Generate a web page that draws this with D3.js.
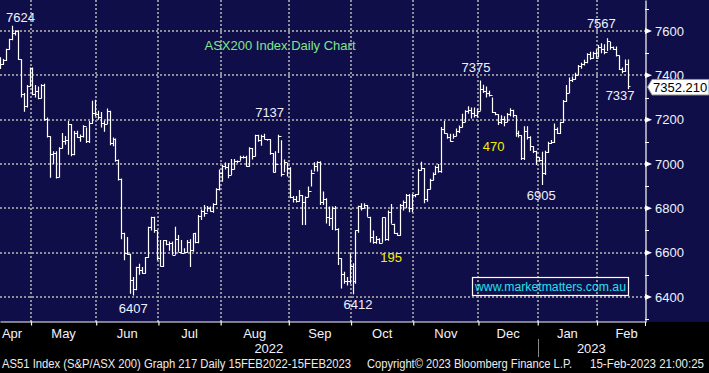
<!DOCTYPE html>
<html>
<head>
<meta charset="utf-8">
<script src="https://cdn.jsdelivr.net/npm/d3@7"></script>
<style>
  html, body { margin: 0; padding: 0; background: #000; }
  svg { display: block; }
  text { font-family: "Liberation Sans", Arial, sans-serif; }
</style>
</head>
<body>
<div id="chart"></div>
<script>
// daily bars, 12 Apr 2022 .. 15 Feb 2023
const highs = [
  7482, 7474, 7520, 7565, 7624, 7603, 7603, 7473, 7320, 7356, 7435, 7435, 7356, 7350, 7360, 7362, 7210, 7125, 7058, 7058,
  7075, 7140, 7126, 7194, 7180, 7149, 7150, 7133, 7175, 7165, 7194, 7285, 7290, 7240, 7235, 7195, 7250, 7240, 7120, 7115,
  7020, 6935, 6690, 6670, 6595, 6490, 6536, 6550, 6535, 6580, 6717, 6762, 6762, 6700, 6657, 6657, 6657, 6650, 6650, 6717,
  6680, 6657, 6620, 6657, 6660, 6687, 6690, 6770, 6795, 6815, 6810, 6808, 6823, 6890, 6975, 6997, 7007, 7005, 7022, 7022,
  7016, 7037, 7037, 7037, 7076, 7072, 7132, 7132, 7132, 7137, 7113, 7113, 7050, 7057, 7132, 7107, 7020, 7005, 6985, 6856,
  6856, 6883, 6860, 6853, 6898, 6974, 7008, 7012, 7012, 6876, 6845, 6808, 6808, 6810, 6710, 6575, 6514, 6490, 6596, 6552,
  6700, 6812, 6823, 6823, 6815, 6762, 6700, 6675, 6665, 6759, 6759, 6790, 6820, 6730, 6690, 6820, 6835, 6865, 6865, 6865,
  6865, 6978, 7010, 6982, 6887, 6933, 6962, 6992, 7000, 7167, 7194, 7137, 7137, 7137, 7160, 7174, 7227, 7242, 7260, 7255,
  7255, 7250, 7377, 7358, 7350, 7330, 7300, 7235, 7225, 7220, 7215, 7230, 7252, 7245, 7220, 7150, 7130, 7170, 7170, 7125,
  7080, 7060, 7030, 7055, 7060, 7100, 7108, 7183, 7165, 7191, 7289, 7356, 7390, 7395, 7412, 7447, 7457, 7470, 7500, 7507,
  7507, 7517, 7537, 7545, 7540, 7567, 7550, 7530, 7530, 7490, 7435, 7472, 7472
];
const lows = [
  7429, 7447, 7465, 7515, 7558, 7580, 7470, 7300, 7236, 7255, 7350, 7310, 7300, 7292, 7295, 7195, 7120, 6938, 7000, 6935,
  6940, 7070, 7087, 7042, 7035, 7040, 7118, 7100, 7120, 7095, 7095, 7180, 7215, 7200, 7165, 7145, 7180, 7085, 7080, 7010,
  6925, 6660, 6566, 6590, 6415, 6407, 6430, 6500, 6505, 6505, 6577, 6700, 6690, 6566, 6537, 6535, 6633, 6608, 6590, 6590,
  6604, 6600, 6600, 6600, 6535, 6604, 6642, 6642, 6747, 6762, 6785, 6785, 6780, 6815, 6880, 6920, 6975, 6936, 6950, 6975,
  7005, 7015, 7025, 6988, 6988, 7020, 7034, 7100, 7082, 7110, 7105, 7042, 6962, 6962, 7050, 6943, 6963, 6943, 6845, 6826,
  6826, 6830, 6725, 6725, 6850, 6898, 6966, 6966, 6815, 6815, 6732, 6720, 6702, 6700, 6544, 6438, 6460, 6452, 6460, 6412,
  6460, 6690, 6790, 6800, 6762, 6646, 6640, 6640, 6640, 6645, 6654, 6654, 6730, 6684, 6676, 6676, 6790, 6800, 6782, 6782,
  6850, 6860, 6970, 6823, 6830, 6885, 6925, 6950, 6960, 6960, 7137, 7114, 7100, 7114, 7125, 7140, 7165, 7190, 7227, 7205,
  7210, 7210, 7240, 7320, 7300, 7305, 7230, 7220, 7176, 7180, 7170, 7190, 7215, 7210, 7123, 7120, 7018, 7018, 7110, 7060,
  7050, 6995, 7010, 6905, 6950, 7050, 7090, 7095, 7135, 7135, 7185, 7280, 7320, 7370, 7380, 7400, 7430, 7445, 7455, 7470,
  7475, 7475, 7480, 7500, 7495, 7510, 7515, 7515, 7485, 7424, 7410, 7415, 7337
];
const closes = [
  7452, 7470, 7518, 7562, 7590, 7600, 7473, 7315, 7262, 7353, 7432, 7315, 7330, 7300, 7355, 7205, 7125, 7045, 7050, 6942,
  7070, 7105, 7110, 7180, 7045, 7140, 7120, 7128, 7170, 7105, 7185, 7230, 7225, 7210, 7185, 7180, 7240, 7095, 7115, 7020,
  6932, 6687, 6600, 6595, 6475, 6435, 6535, 6520, 6510, 6580, 6715, 6760, 6700, 6575, 6540, 6655, 6640, 6645, 6590, 6660,
  6605, 6600, 6605, 6650, 6610, 6690, 6650, 6765, 6790, 6780, 6800, 6790, 6820, 6885, 6960, 6990, 6985, 6950, 6977, 7015,
  7015, 7032, 7030, 6990, 7070, 7035, 7130, 7110, 7125, 7112, 7112, 7050, 6965, 7000, 7125, 6955, 7010, 6980, 6850, 6840,
  6835, 6860, 6830, 6850, 6880, 6960, 6990, 7008, 6830, 6840, 6760, 6755, 6800, 6705, 6575, 6505, 6470, 6470, 6540, 6470,
  6700, 6812, 6800, 6815, 6762, 6669, 6650, 6660, 6645, 6759, 6660, 6785, 6730, 6690, 6680, 6815, 6830, 6860, 6800, 6860,
  6865, 6975, 6980, 6840, 6885, 6930, 6955, 6985, 6970, 7160, 7140, 7120, 7105, 7125, 7150, 7165, 7190, 7240, 7245, 7230,
  7220, 7240, 7340, 7330, 7320, 7310, 7235, 7225, 7190, 7205, 7190, 7225, 7245, 7220, 7140, 7130, 7025, 7150, 7120, 7080,
  7060, 7030, 7020, 6960, 7055, 7095, 7100, 7160, 7140, 7190, 7285, 7320, 7380, 7385, 7400, 7440, 7450, 7460, 7495, 7480,
  7500, 7480, 7530, 7520, 7505, 7555, 7530, 7520, 7490, 7430, 7420, 7450, 7352
];

// month names and the bar index where each month starts
const monthLabels = ["Apr", "May", "Jun", "Jul", "Aug", "Sep", "Oct", "Nov", "Dec", "Jan", "Feb"];
const monthStarts = [-7, 11, 33, 54, 75, 98, 119, 140, 162, 182, 202, 222];
const yearLabels = ["2022", "2023"];
const yearStarts = [-70, 182];

const majorTicks = [6400, 6600, 6800, 7000, 7200, 7400, 7600];
const minorTicks = [6300, 6500, 6700, 6900, 7100, 7300, 7500, 7700];

// price call-outs
const peakText = ["7624", "7137", "7375", "7567", "6407", "6412", "6905", "7337"];
const peakIdx = [4, 89, 162, 205, 45, 119, 183, 212];
const peakVal = [7624, 7137, 7377, 7567, 6407, 6412, 6905, 7337];
const rangeText = ["470", "195"];
const rangeIdx = [166.6, 132];
const rangeVal = [7079, 6580];

const lastPrice = "7352.210";
const lastValue = 7352.21;

const footer = [
  "AS51 Index (S&P/ASX 200) Graph 217  Daily 15FEB2022-15FEB2023",
  "Copyright\u00A9 2023 Bloomberg Finance L.P.",
  "15-Feb-2023 21:00:25"
];

const W = 709, H = 373;
const plotR = 645, plotB = 322;

const svg = d3.select("#chart").append("svg")
  .attr("width", W)
  .attr("height", H);

svg.append("rect").attr("width", W).attr("height", H).attr("fill", "#000");
svg.append("rect").attr("width", W).attr("height", plotB).attr("fill", "#100e48");

const x = d3.scaleLinear().domain([0.034, 217.7]).range([0, plotR]);
const y = d3.scaleLinear().domain([6287, 7740]).range([plotB, 0]);

const px = (v) => Math.round(v) + 0.5;

// grid
const grid = svg.append("g")
  .attr("stroke", "#8e8e98")
  .attr("stroke-width", 2)
  .attr("stroke-dasharray", "2,2");

grid.selectAll("line.h")
  .data(majorTicks)
  .enter()
  .append("line")
  .attr("x1", 0).attr("x2", plotR)
  .attr("y1", (d) => Math.round(y(d)))
  .attr("y2", (d) => Math.round(y(d)));

const bounds = monthStarts.slice(1, -1);
grid.selectAll("line.v")
  .data(bounds)
  .enter()
  .append("line")
  .attr("x1", (d) => Math.round(x(d - 0.5)))
  .attr("x2", (d) => Math.round(x(d - 0.5)))
  .attr("y1", 0).attr("y2", plotB);

// bars
const bars = svg.append("g");
bars.selectAll("path")
  .data(closes)
  .enter()
  .append("path")
  .attr("fill", "none")
  .attr("stroke", "#fff")
  .attr("stroke-width", 1.2)
  .attr("d", (c, i) => {
    const xi = px(x(i));
    const xn = i < closes.length - 1 ? px(x(i + 1)) : xi + 2;
    return `M${xi},${y(highs[i])}V${y(lows[i])}M${xi},${px(y(c))}H${xn}`;
  });

// x axis
const xAxis = d3.axisBottom(x)
  .tickValues(bounds.map((d) => d - 0.5))
  .tickFormat("")
  .tickSize(4)
  .tickSizeOuter(0);

const gx = svg.append("g")
  .attr("transform", `translate(0, ${plotB - 0.5})`)
  .call(xAxis);
gx.selectAll("path, line").attr("stroke", "#f4f4ff").attr("stroke-width", 1.2);

const mid = (a, b) => (x(a - 0.5) + x(b - 0.5)) / 2;
svg.append("g").selectAll("text")
  .data(monthLabels)
  .enter()
  .append("text")
  .attr("x", (d, i) => Math.max(mid(monthStarts[i], monthStarts[i + 1]), 12))
  .attr("y", 338)
  .attr("text-anchor", "middle")
  .attr("fill", "#f2f2ff")
  .attr("font-size", 13)
  .text((d) => d);

// years
const yearX = (i) => {
  const a = Math.max(0, x(yearStarts[i] - 0.5));
  const b = i < yearStarts.length - 1 ? x(yearStarts[i + 1] - 0.5) : plotR;
  return (a + b) / 2;
};
svg.append("g").selectAll("text")
  .data(yearLabels)
  .enter()
  .append("text")
  .attr("x", (d, i) => yearX(i))
  .attr("y", 353)
  .attr("text-anchor", "middle")
  .attr("fill", "#f2f2ff")
  .attr("font-size", 13)
  .text((d) => d);

svg.append("line")
  .attr("x1", px(x(yearStarts[1] - 0.5))).attr("x2", px(x(yearStarts[1] - 0.5)))
  .attr("y1", 339).attr("y2", 357)
  .attr("stroke", "#8a8a8a");

// y axis on the right
const yAxis = d3.axisRight(y)
  .tickValues(majorTicks)
  .tickFormat("")
  .tickSize(0)
  .tickSizeOuter(0);

const gy = svg.append("g")
  .attr("transform", `translate(${plotR + 0.5}, 0)`)
  .call(yAxis);
gy.select(".domain").attr("stroke", "#fff").attr("stroke-width", 1.2);

svg.append("line")
  .attr("x1", plotR + 0.5).attr("x2", plotR + 0.5)
  .attr("y1", plotB).attr("y2", plotB + 4)
  .attr("stroke", "#fff");

svg.append("g").selectAll("line")
  .data(minorTicks)
  .enter()
  .append("line")
  .attr("x1", plotR).attr("x2", plotR + 4)
  .attr("y1", (d) => px(y(d)))
  .attr("y2", (d) => px(y(d)))
  .attr("stroke", "#fff");

svg.append("g").selectAll("path")
  .data(majorTicks)
  .enter()
  .append("path")
  .attr("fill", "#fff")
  .attr("d", (d) => {
    const t = y(d);
    return `M${plotR},${t - 3}L${plotR + 7},${t}L${plotR},${t + 3}Z`;
  });

svg.append("g").selectAll("text")
  .data(majorTicks)
  .enter()
  .append("text")
  .attr("x", 655)
  .attr("y", (d) => y(d))
  .attr("dy", "0.36em")
  .attr("fill", "#eef2ff")
  .attr("font-size", 13)
  .text((d) => d);

// last price tag (covers the lower half of the 7400 label, as in the original)
const ty = y(lastValue) + 1;
svg.append("path")
  .attr("d", `M647.5,${ty}L652,${ty - 7.5}H709V${ty + 8}H652Z`)
  .attr("fill", "#fff")
  .attr("stroke", "#9a9a9a");
svg.append("text")
  .attr("x", 653)
  .attr("y", ty)
  .attr("dy", "0.36em")
  .attr("fill", "#000")
  .attr("font-size", 13)
  .text(lastPrice);

// call-outs
const offX = [8.7, 6, -4, -6, 0, 5.5, -1, -8];
const offY = [-8, -21, -13, -15, 13, 10, 10, 6];
svg.append("g").selectAll("text")
  .data(peakText)
  .enter()
  .append("text")
  .attr("x", (d, i) => x(peakIdx[i]) + offX[i])
  .attr("y", (d, i) => y(peakVal[i]) + offY[i])
  .attr("dy", "0.36em")
  .attr("text-anchor", "middle")
  .attr("fill", "#eef2ff")
  .attr("font-size", 13)
  .text((d) => d);

svg.append("g").selectAll("text")
  .data(rangeText)
  .enter()
  .append("text")
  .attr("x", (d, i) => x(rangeIdx[i]))
  .attr("y", (d, i) => y(rangeVal[i]))
  .attr("dy", "0.36em")
  .attr("text-anchor", "middle")
  .attr("fill", "#f0f000")
  .attr("font-size", 13)
  .text((d) => d);

svg.append("text")
  .attr("x", 280)
  .attr("y", 45)
  .attr("dy", "0.36em")
  .attr("text-anchor", "middle")
  .attr("fill", "#7ee68a")
  .attr("font-size", 13)
  .text("ASX200 Index Daily Chart");

svg.append("rect")
  .attr("x", 472.5).attr("y", 277.5)
  .attr("width", 156).attr("height", 18)
  .attr("fill", "none")
  .attr("stroke", "#fff")
  .attr("stroke-width", 1.2);
svg.append("text")
  .attr("x", 475)
  .attr("y", 286.5)
  .attr("dy", "0.36em")
  .attr("fill", "#22e0ee")
  .attr("font-size", 12.5)
  .attr("textLength", 151)
  .attr("lengthAdjust", "spacingAndGlyphs")
  .text("www.marketmatters.com.au");

// footer
const footX = [2, 367, 590];
const footLen = [349, 205, 114];
svg.append("g").selectAll("text")
  .data(footer)
  .enter()
  .append("text")
  .attr("x", (d, i) => footX[i])
  .attr("y", 368)
  .attr("fill", "#ececec")
  .attr("font-size", 12)
  .attr("textLength", (d, i) => footLen[i])
  .attr("lengthAdjust", "spacingAndGlyphs")
  .text((d) => d);
</script>
</body>
</html>
